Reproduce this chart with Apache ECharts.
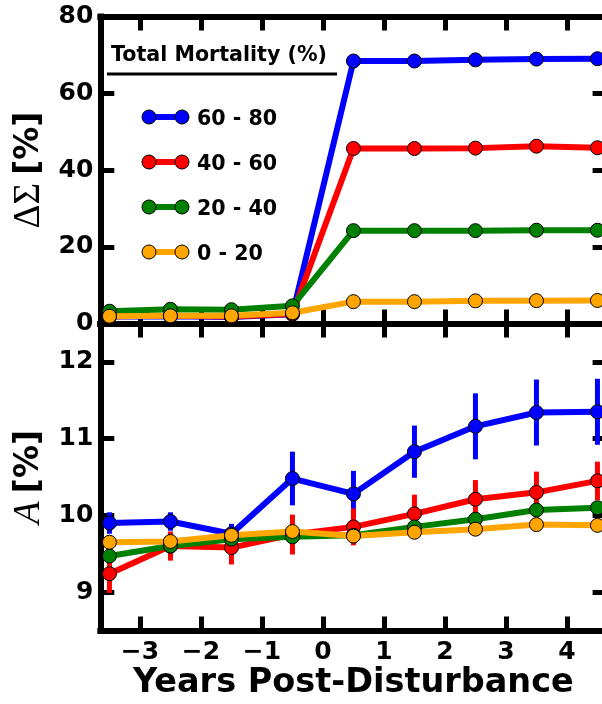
<!DOCTYPE html>
<html>
<head>
<meta charset="utf-8">
<script src="https://cdn.jsdelivr.net/npm/echarts@6/dist/echarts.min.js"></script>
<style>
  html, body { margin: 0; padding: 0; background: #fff; }
  #chart { width: 602px; height: 704px; }
</style>
</head>
<body>
<div id="chart"></div>
<script>
// years relative to the disturbance (bin centres)
let years = [-3.5, -2.5, -1.5, -0.5, 0.5, 1.5, 2.5, 3.5, 4.5];
let groups = ['60 - 80', '40 - 60', '20 - 40', '0 - 20'];
let colors = ['#0000ff', '#ff0000', '#008000', '#ffa500'];
let xTicks = [-3, -2, -1, 0, 1, 2, 3, 4];
let aTicks = [9, 10, 11, 12];

// top panel: delta sigma [%]
let dSig_60_80 = [1.8, 1.9, 1.7, 2.4, 68.4, 68.4, 68.7, 68.9, 69.0];
let dSig_40_60 = [1.9, 2.0, 1.8, 2.5, 45.6, 45.6, 45.7, 46.2, 45.8];
let dSig_20_40 = [3.2, 3.7, 3.6, 4.6, 24.2, 24.2, 24.2, 24.3, 24.3];
let dSig_0_20 = [1.9, 2.0, 2.0, 2.8, 5.7, 5.7, 5.9, 5.95, 6.0];

// bottom panel: A [%] and error bars
let A_60_80 = [9.90, 9.92, 9.76, 10.48, 10.28, 10.83, 11.16, 11.34, 11.35];
let A_60_80_err = [0.14, 0.12, 0.13, 0.35, 0.30, 0.34, 0.43, 0.43, 0.43];
let A_40_60 = [9.24, 9.60, 9.58, 9.75, 9.85, 10.02, 10.21, 10.30, 10.45];
let A_40_60_err = [0.25, 0.19, 0.22, 0.26, 0.24, 0.25, 0.25, 0.27, 0.25];
let A_20_40 = [9.47, 9.60, 9.69, 9.72, 9.74, 9.85, 9.95, 10.07, 10.10];
let A_20_40_err = [0.06, 0.05, 0.05, 0.05, 0.05, 0.05, 0.05, 0.05, 0.05];
let A_0_20 = [9.65, 9.66, 9.74, 9.79, 9.73, 9.78, 9.82, 9.88, 9.87];
let A_0_20_err = [0.04, 0.04, 0.04, 0.04, 0.04, 0.04, 0.04, 0.04, 0.04];

let dSigAll = [dSig_60_80, dSig_40_60, dSig_20_40, dSig_0_20];
let aAll = [A_60_80, A_40_60, A_20_40, A_0_20];
let aErrAll = [A_60_80_err, A_40_60_err, A_20_40_err, A_0_20_err];

let FONT = 'DejaVu Sans';

let chart = echarts.init(document.getElementById('chart'));

function pairs(vals) {
    return years.map(function (x, i) { return [x, vals[i]]; });
}

function errRender(params, api) {
    let p1 = api.coord([api.value(0), api.value(1)]);
    let p2 = api.coord([api.value(0), api.value(2)]);
    return {
        type: 'line',
        shape: { x1: p1[0], y1: p1[1], x2: p2[0], y2: p2[1] },
        style: { stroke: api.visual('color'), lineWidth: 5 }
    };
}

function minus(v) {
    return v < 0 ? '\u2212' + Math.abs(v) : String(v);
}

// one spine of a panel, with inward ticks
function spineX(grid, pos, showLabel, name) {
    return {
        type: 'value', gridIndex: grid, position: pos,
        min: -3.65, max: 4.65,
        axisLine: { onZero: false, lineStyle: { color: '#000', width: 6, cap: 'square' } },
        axisTick: { inside: true, length: 14, customValues: xTicks, lineStyle: { color: '#000', width: 5 } },
        axisLabel: {
            show: showLabel, customValues: xTicks, margin: 9, formatter: minus,
            color: '#000', fontFamily: FONT, fontWeight: 'bold', fontSize: 25
        },
        splitLine: { show: false },
        name: name || '', nameLocation: 'middle', nameGap: 36,
        nameTextStyle: { color: '#000', fontFamily: FONT, fontWeight: 'bold', fontSize: 33.5 }
    };
}

function spineY(grid, pos, showLabel, range, ticks, name, rich) {
    return {
        type: 'value', gridIndex: grid, position: pos,
        min: range[0], max: range[1],
        axisLine: { onZero: false, lineStyle: { color: '#000', width: 6, cap: 'square' } },
        axisTick: { inside: true, length: 14, customValues: ticks, lineStyle: { color: '#000', width: 5 } },
        axisLabel: {
            show: showLabel, customValues: ticks, margin: 7,
            color: '#000', fontFamily: FONT, fontWeight: 'bold', fontSize: 25
        },
        splitLine: { show: false },
        name: name || '', nameLocation: 'middle', nameRotate: 90, nameGap: 52,
        nameTextStyle: { color: '#000', rich: rich }
    };
}

let yRich = {
    g: { fontFamily: 'Liberation Serif', fontSize: 37, color: '#000' },
    gi: { fontFamily: 'Liberation Serif', fontStyle: 'italic', fontSize: 37, color: '#000' },
    sp: { fontFamily: FONT, fontSize: 26 },
    b: { fontFamily: FONT, fontWeight: 'bold', fontSize: 33, color: '#000' }
};

let series = [];
// top panel lines
dSigAll.forEach(function (vals, k) {
    series.push({
        type: 'line', name: groups[k], xAxisIndex: 0, yAxisIndex: 0,
        data: pairs(vals), symbol: 'circle', symbolSize: 14,
        lineStyle: { color: colors[k], width: 6 },
        itemStyle: { color: colors[k], borderColor: '#000', borderWidth: 1 },
        emphasis: { disabled: true }, silent: true
    });
});
// bottom panel: error bars then line for each group
aAll.forEach(function (vals, k) {
    series.push({
        type: 'custom', xAxisIndex: 2, yAxisIndex: 2,
        renderItem: errRender,
        itemStyle: { color: colors[k] },
        encode: { x: 0, y: [1, 2] },
        data: years.map(function (x, i) { return [x, vals[i] - aErrAll[k][i], vals[i] + aErrAll[k][i]]; }),
        silent: true
    });
    series.push({
        type: 'line', name: groups[k], xAxisIndex: 2, yAxisIndex: 2,
        data: pairs(vals), symbol: 'circle', symbolSize: 14,
        lineStyle: { color: colors[k], width: 6 },
        itemStyle: { color: colors[k], borderColor: '#000', borderWidth: 1 },
        emphasis: { disabled: true }, silent: true
    });
});

// legend drawn by hand: line with two markers per group
let legendEls = [
    { type: 'text', x: 111, y: 56, style: { text: 'Total Mortality (%)', fill: '#000', font: 'bold 20.6px "DejaVu Sans"', verticalAlign: 'middle' } },
    { type: 'line', shape: { x1: 107, y1: 74, x2: 337, y2: 74 }, style: { stroke: '#000', lineWidth: 3 } }
];
groups.forEach(function (g, k) {
    let y = 117 + k * 45;
    legendEls.push({ type: 'line', shape: { x1: 149, y1: y, x2: 182, y2: y }, style: { stroke: colors[k], lineWidth: 6 } });
    legendEls.push({ type: 'circle', shape: { cx: 149, cy: y, r: 7 }, style: { fill: colors[k], stroke: '#000', lineWidth: 1 } });
    legendEls.push({ type: 'circle', shape: { cx: 182, cy: y, r: 7 }, style: { fill: colors[k], stroke: '#000', lineWidth: 1 } });
    legendEls.push({ type: 'text', x: 197, y: y + 3, style: { text: g, fill: '#000', font: 'bold 20.6px "DejaVu Sans"', verticalAlign: 'middle' } });
});

let option = {
    animation: false,
    backgroundColor: '#fff',
    grid: [
        { left: 100.3, width: 506.3, top: 16.5, height: 307, outerBoundsMode: 'none', containLabel: false },
        { left: 100.3, width: 506.3, top: 323.5, height: 307, outerBoundsMode: 'none', containLabel: false }
    ],
    xAxis: [
        spineX(0, 'bottom', false),
        spineX(0, 'top', false),
        spineX(1, 'bottom', true, 'Years Post-Disturbance'),
        spineX(1, 'top', false)
    ],
    yAxis: [
        spineY(0, 'left', true, [0, 80], [0, 20, 40, 60, 80], '{g|\u0394\u03a3}{sp| }{b|[%]}', yRich),
        spineY(0, 'right', false, [0, 80], [0, 20, 40, 60, 80]),
        spineY(1, 'left', true, [8.5, 12.5], aTicks, '{gi|A}{sp| }{b|[%]}', yRich),
        spineY(1, 'right', false, [8.5, 12.5], aTicks)
    ],
    series: series,
    graphic: legendEls
};

chart.setOption(option);
</script>
</body>
</html>
